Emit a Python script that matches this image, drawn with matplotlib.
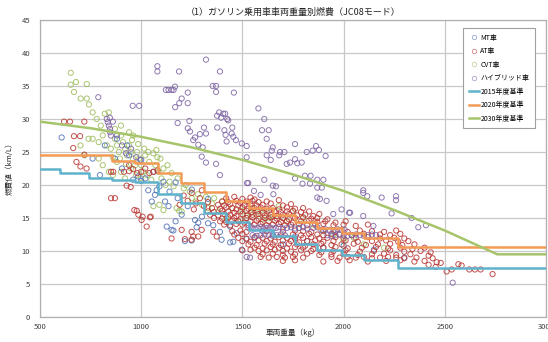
import numpy as np
import matplotlib
matplotlib.use("Agg")
import matplotlib.pyplot as plt
from matplotlib.lines import Line2D

plt.rcParams['font.family'] = ['Noto Sans CJK JP', 'DejaVu Sans']

#-----------------------------------------------------------------------------
# data (vehicle weight kg, fuel economy km/L)

title = "（1）ガソリン乗用車車両重量別燃費（JC08モード）"
xlabel = "車両重量（kg）"
ylabel = "燃費値（km/L）"
series_names = ["MT車", "AT車", "CVT車", "ハイブリッド車"]
line_names = ["2015年度基準", "2020年度基準", "2030年度基準"]

mt_pts = [(607, 27.2), (796, 21.5), (870, 24.0), (905, 22.5), (930, 26.0), (960, 20.8),
          (985, 21.3), (1000, 20.6), (1035, 19.2), (1052, 17.5), (1068, 18.5), (1076, 19.2),
          (1090, 19.8), (1118, 17.5), (1126, 13.7), (1135, 16.8), (1150, 13.2), (1159, 13.1),
          (1170, 14.5), (1200, 15.5), (1216, 11.5), (1249, 11.6), (1266, 14.7), (1274, 13.6),
          (1282, 14.3), (1300, 15.2), (1330, 14.2), (1356, 13.9), (1389, 12.9), (1397, 11.7),
          (1439, 13.7), (1439, 11.3), (1455, 11.4), (1472, 12.7), (1497, 10.2), (1520, 11.8),
          (1560, 12.0), (1600, 13.0), (1650, 12.5), (1700, 11.0), (1760, 12.2), (1820, 11.5),
          (1900, 10.5), (2000, 10.8), (2150, 10.2), (2300, 9.0), (940, 24.5), (880, 27.0),
          (820, 26.0), (760, 24.0), (1000, 23.8), (1020, 21.0), (1140, 19.0), (1180, 18.0),
          (1230, 16.8), (1110, 20.5), (1060, 22.0), (1170, 20.4), (1250, 19.3), (1330, 17.9)]

at_pts = [(619, 29.6), (648, 29.6), (719, 29.6), (668, 27.4), (698, 27.4), (664, 25.6),
          (719, 24.6), (680, 23.5), (700, 22.8), (730, 22.5), (851, 22.0), (862, 22.0),
          (928, 19.9), (948, 19.7), (851, 18.0), (870, 18.0), (966, 16.2), (978, 16.1),
          (986, 15.5), (1007, 15.2), (1027, 13.7), (1047, 15.2), (1002, 14.7), (1043, 15.1),
          (1200, 13.2), (1216, 11.8), (1249, 11.7), (1257, 12.2), (1249, 12.9), (1282, 12.2),
          (1299, 13.2), (1356, 12.9), (1373, 12.2), (1150, 11.9), (915, 22.0), (940, 22.1),
          (960, 22.4), (980, 21.8), (1000, 22.0), (1020, 22.5), (1040, 21.8), (1060, 22.0),
          (1080, 22.2), (940, 23.0), (1190, 17.0), (1210, 18.4), (1230, 17.6), (1250, 18.8),
          (1270, 17.2), (1290, 18.0), (1310, 16.8), (1330, 17.4), (1300, 19.2), (1260, 16.3),
          (1420, 18.0), (1460, 18.2), (1500, 17.9), (1540, 18.1), (1560, 17.8),
          (1400, 17.5), (1430, 17.4), (1470, 17.6), (1490, 17.3), (1520, 17.5), (1550, 17.6),
          (1580, 17.4), (1620, 17.5), (1680, 17.7),
          (1380, 17.0), (1410, 16.9), (1440, 17.1), (1480, 16.9), (1510, 17.0), (1540, 17.1),
          (1570, 16.9), (1600, 17.0), (1640, 17.2), (1700, 16.9), (1740, 17.1),
          (1350, 16.5), (1390, 16.4), (1420, 16.6), (1450, 16.5), (1470, 16.3), (1500, 16.6),
          (1530, 16.4), (1560, 16.5), (1590, 16.6), (1620, 16.4), (1650, 16.5), (1680, 16.3),
          (1720, 16.6), (1760, 16.4), (1800, 16.5),
          (1330, 16.0), (1360, 15.9), (1400, 16.1), (1430, 16.0), (1460, 15.8), (1490, 16.0),
          (1520, 16.1), (1545, 15.9), (1575, 16.0), (1600, 15.8), (1630, 16.1), (1660, 16.0),
          (1690, 15.9), (1720, 16.0), (1750, 16.1), (1790, 15.9), (1830, 16.0),
          (1340, 15.5), (1380, 15.4), (1410, 15.6), (1440, 15.5), (1470, 15.3), (1500, 15.6),
          (1525, 15.4), (1550, 15.5), (1580, 15.6), (1610, 15.4), (1640, 15.5), (1670, 15.3),
          (1700, 15.5), (1730, 15.6), (1770, 15.4), (1810, 15.5), (1850, 15.3), (1880, 15.6),
          (1360, 15.0), (1400, 14.9), (1430, 15.1), (1460, 15.0), (1490, 14.8), (1520, 15.0),
          (1550, 15.1), (1580, 14.9), (1610, 15.0), (1640, 15.1), (1670, 14.9), (1700, 15.0),
          (1730, 14.8), (1760, 15.0), (1800, 15.1), (1840, 14.9), (1870, 15.0), (1920, 14.8),
          (1390, 14.5), (1420, 14.4), (1450, 14.6), (1480, 14.5), (1510, 14.3), (1540, 14.5),
          (1570, 14.6), (1600, 14.4), (1630, 14.5), (1660, 14.6), (1690, 14.4), (1720, 14.5),
          (1750, 14.3), (1790, 14.5), (1830, 14.6), (1870, 14.4), (1910, 14.5), (1960, 14.3),
          (2010, 14.5),
          (1410, 14.0), (1440, 13.9), (1470, 14.1), (1500, 14.0), (1530, 13.9), (1560, 14.0),
          (1590, 14.1), (1620, 13.9), (1650, 14.0), (1680, 14.1), (1710, 13.9), (1740, 14.0),
          (1780, 14.1), (1820, 13.9), (1860, 14.0), (1900, 14.1), (1950, 13.9), (2000, 14.0),
          (2060, 13.8), (2120, 14.0),
          (1450, 13.0), (1490, 13.1), (1520, 12.9), (1620, 13.0), (1700, 12.9), (1760, 13.1),
          (1800, 13.0), (1840, 12.9), (1900, 13.1), (1960, 13.0), (2020, 12.9), (2080, 13.1),
          (2140, 13.0), (2200, 12.9), (2260, 13.1),
          (1460, 12.5), (1500, 12.6), (1750, 12.5), (1790, 12.4), (1830, 12.6), (1870, 12.5),
          (1900, 12.4), (1940, 12.6), (1980, 12.5), (2040, 12.4), (2100, 12.6), (2180, 12.5),
          (2230, 12.4), (2280, 12.6),
          (1480, 12.0), (1520, 11.9), (1560, 12.1), (1600, 12.0), (1640, 11.9), (1680, 12.1),
          (1720, 12.0), (1760, 11.9), (1800, 12.0), (1840, 12.1), (1880, 11.9), (1920, 12.0),
          (1960, 12.1), (2000, 11.9), (2060, 12.0), (2120, 12.1), (2180, 11.9), (2250, 12.0),
          (2300, 11.9),
          (1500, 11.5), (1540, 11.4), (1580, 11.6), (1620, 11.5), (1660, 11.4), (1700, 11.6),
          (1740, 11.5), (1780, 11.3), (1820, 11.5), (1860, 11.6), (1900, 11.4), (1950, 11.5),
          (2010, 11.6), (2070, 11.4), (2140, 11.5), (2210, 11.6), (2270, 11.4), (2320, 11.5),
          (1530, 11.0), (1570, 10.9), (1610, 11.1), (1650, 11.0), (1690, 10.9), (1730, 11.1),
          (1770, 11.0), (1810, 10.8), (1850, 11.0), (1890, 11.1), (1940, 10.9), (1990, 11.0),
          (2050, 11.1), (2110, 10.9), (2170, 11.0), (2230, 11.1), (2290, 10.9), (2350, 11.0),
          (1560, 10.5), (1600, 10.4), (1640, 10.6), (1680, 10.5), (1720, 10.4), (1760, 10.6),
          (1800, 10.5), (1850, 10.3), (1900, 10.5), (1960, 10.6), (2020, 10.4), (2090, 10.5),
          (2160, 10.6), (2220, 10.4), (2280, 10.5), (2340, 10.3), (2400, 10.5),
          (1500, 10.1), (1540, 10.2), (1580, 10.0), (1620, 10.1), (1660, 10.2), (1700, 10.0),
          (1740, 9.9), (1790, 10.1), (1840, 10.0), (1890, 9.8), (1950, 10.0), (2010, 10.1),
          (2080, 9.9), (2150, 10.0), (2230, 10.1), (2300, 9.9), (2380, 10.0), (2430, 9.8),
          (1600, 9.5), (1650, 9.6), (1700, 9.4), (1760, 9.5), (1820, 9.6), (1880, 9.4),
          (1940, 9.5), (2000, 9.6), (2070, 9.4), (2140, 9.5), (2200, 9.6), (2260, 9.4),
          (2330, 9.5), (2420, 9.3),
          (1590, 9.1), (1630, 9.0), (1670, 9.1), (1710, 9.0), (1750, 9.1), (1800, 9.0),
          (1940, 9.1), (1980, 9.0), (2020, 9.1), (2060, 9.0), (2100, 9.1), (2140, 8.9),
          (2180, 9.0), (2220, 9.1), (2260, 9.0), (2300, 8.9), (2360, 9.0), (2440, 8.9),
          (1700, 8.5), (1760, 8.6), (1900, 8.4), (1970, 8.5), (2030, 8.6), (2120, 8.4),
          (2210, 8.5), (2280, 8.6), (2350, 8.4), (2400, 8.5), (2460, 8.3),
          (2420, 7.9), (2455, 7.6), (2480, 8.2), (2509, 6.9), (2534, 7.2), (2567, 8.0),
          (2583, 7.8), (2621, 7.2), (2649, 7.2), (2677, 7.2), (2736, 6.5)]

cvt_pts = [(652, 37.0), (652, 35.2), (678, 35.6), (731, 35.3), (668, 34.1), (701, 33.1),
           (731, 33.1), (742, 32.2), (760, 31.0), (780, 30.0), (800, 29.0), (820, 30.8),
           (840, 31.0), (760, 27.0), (790, 26.5), (810, 27.5), (830, 26.0), (850, 25.5),
           (870, 27.0), (880, 26.0), (890, 25.0), (900, 27.5), (910, 26.5), (920, 25.5),
           (930, 24.5), (940, 26.0), (950, 25.0), (960, 24.0), (970, 23.0), (980, 25.0),
           (990, 24.0), (1000, 23.0), (1010, 22.0), (1020, 24.5), (1040, 23.5), (1060, 24.8),
           (1070, 23.0), (1085, 22.0), (1100, 21.0), (1110, 22.5), (1120, 20.0), (1140, 20.5),
           (1160, 19.8), (1175, 16.5), (1188, 16.1), (1200, 16.0), (1060, 16.8), (1090, 17.0),
           (1110, 16.2), (1220, 20.0), (1250, 18.0), (1270, 17.5), (1300, 17.0), (1330, 16.5),
           (1360, 18.0), (1380, 16.0), (1400, 17.5), (1420, 15.0), (1450, 16.5), (1480, 14.5),
           (1500, 16.0), (1520, 15.0), (1550, 16.5), (1570, 15.5), (1600, 14.8), (1620, 16.0),
           (1650, 15.2), (1680, 16.8), (1700, 15.0), (1720, 14.5), (1750, 16.0), (1780, 13.5),
           (1800, 15.0), (1850, 14.0), (1900, 13.0), (1950, 12.5), (2000, 11.5), (2050, 12.0),
           (2100, 11.0), (2200, 10.5), (940, 28.0), (960, 27.5), (870, 28.5), (900, 29.0),
           (700, 26.0), (720, 24.5), (740, 27.0), (790, 24.0), (810, 23.0), (840, 22.0),
           (860, 21.5), (880, 23.5), (900, 22.0), (920, 21.0), (950, 22.5), (975, 21.5),
           (1000, 21.0), (1030, 21.5), (1050, 20.8), (1080, 24.2), (860, 24.2), (895, 24.0),
           (925, 23.2), (955, 26.8), (985, 26.2), (1015, 25.5), (1035, 25.0), (1075, 25.3),
           (1095, 24.0), (1130, 23.0), (1150, 21.8), (1180, 21.0), (1210, 19.5), (1240, 19.0),
           (1280, 18.6), (1320, 18.2), (1350, 17.2), (1540, 15.8), (1590, 16.2), (1630, 15.0)]

hv_pts = [(788, 33.3), (830, 30.0), (835, 29.5), (840, 29.0), (846, 28.5), (846, 28.0),
          (850, 27.5), (845, 30.2), (860, 29.6), (958, 32.0), (990, 32.0), (1080, 38.0),
          (1080, 37.2), (1187, 37.2), (1389, 37.2), (1320, 39.0), (1122, 34.4), (1135, 34.4),
          (1150, 34.4), (1160, 34.4), (1167, 34.9), (1230, 34.0), (1200, 33.1), (1188, 32.4),
          (1168, 31.8), (1230, 32.4), (1353, 35.0), (1370, 35.0), (1370, 34.1), (1458, 34.0),
          (1375, 30.5), (1385, 31.0), (1395, 30.2), (1405, 30.8), (1415, 30.8), (1425, 30.0),
          (1430, 29.8), (1238, 29.7), (1180, 29.4), (1230, 28.6), (1241, 28.1), (1266, 27.2),
          (1290, 27.7), (1310, 28.7), (1320, 27.8), (1257, 26.8), (1282, 26.1), (1304, 25.7),
          (1376, 28.7), (1411, 28.3), (1450, 28.7), (1447, 27.8), (1417, 27.6), (1422, 26.6),
          (1455, 27.3), (1468, 26.8), (1497, 26.3), (1579, 31.6), (1608, 30.0), (1597, 28.3),
          (1630, 28.3), (1620, 27.0), (1650, 25.7), (1645, 25.2), (1686, 25.0), (1707, 25.0),
          (1760, 26.2), (1818, 25.0), (1847, 25.2), (1864, 25.9), (1878, 25.3), (1911, 24.4),
          (1620, 24.5), (1640, 23.8), (1682, 24.5), (1719, 23.2), (1735, 23.4), (1760, 23.9),
          (1771, 23.3), (1793, 23.4), (1521, 24.2), (1521, 25.9), (1529, 20.3), (1608, 20.8),
          (1650, 19.9), (1666, 19.8), (1557, 19.1), (1590, 18.5), (1653, 18.6), (1760, 21.0),
          (1809, 21.4), (1837, 21.4), (1797, 20.2), (1834, 20.2), (1870, 20.8), (1900, 20.8),
          (1870, 19.6), (1892, 19.6), (1870, 18.1), (1883, 17.9), (1916, 17.6), (1949, 15.6),
          (1990, 16.3), (2027, 15.8), (2097, 19.2), (2097, 18.8), (2117, 18.3), (2188, 18.1),
          (2259, 18.3), (2259, 17.7), (2237, 15.7), (2097, 15.3), (2032, 15.8), (2336, 15.0),
          (2369, 13.6), (2407, 13.9), (2147, 13.8), (1523, 20.3), (1299, 24.3), (1320, 23.4),
          (1370, 23.2), (1389, 21.5), (1521, 9.1), (1538, 9.0), (2539, 5.2),
          (880, 27.5), (905, 26.0), (925, 24.8), (950, 25.5), (975, 24.2), (995, 23.8),
          (1530, 13.5), (1545, 13.6), (1560, 13.4), (1575, 13.5), (1590, 13.6), (1605, 13.4),
          (1620, 13.5), (1635, 13.6), (1650, 13.4), (1665, 13.5), (1680, 13.6), (1700, 13.4),
          (1720, 13.5), (1740, 13.6), (1760, 13.4), (1780, 13.5), (1800, 13.6), (1820, 13.4),
          (1850, 13.5), (1870, 13.6), (1890, 13.2), (1910, 13.3), (1930, 13.2), (1950, 13.1),
          (1970, 13.3), (1990, 13.2), (2005, 13.2),
          (1550, 12.4), (1570, 12.3), (1590, 12.4), (1610, 12.5), (1630, 12.4), (1650, 12.3),
          (1670, 12.4), (1690, 12.5), (1710, 12.4), (1920, 12.4), (1940, 12.3), (1960, 12.4),
          (1980, 12.5), (2000, 12.4), (2020, 12.3), (2040, 12.4), (2060, 12.5), (2080, 12.4),
          (2100, 12.3), (2120, 12.4), (2140, 12.5), (2160, 12.4)]

# fiscal-year standards (weight class boundaries, km/L)
std2015_w = [500, 601, 741, 856, 971, 1081, 1196, 1311, 1421, 1531, 1651, 1761, 1871, 1991, 2101, 2271, 3000]
std2015_fe = [22.5, 21.8, 21.0, 20.8, 20.5, 18.7, 17.2, 15.8, 14.4, 13.2, 12.2, 11.1, 10.2, 9.4, 8.7, 7.4, 7.4]
std2020_w = [500, 741, 856, 971, 1081, 1196, 1311, 1421, 1531, 1651, 1761, 1871, 1991, 2101, 2271, 3000]
std2020_fe = [24.6, 24.5, 23.7, 23.4, 21.8, 20.3, 19.0, 17.6, 16.5, 15.4, 14.4, 13.5, 12.7, 11.9, 10.6, 10.6]
std2030_w = [500, 750, 1000, 1250, 1500, 1750, 2000, 2250, 2500, 2759, 3000]
std2030_fe = [29.6, 28.6, 27.3, 25.7, 23.8, 21.6, 19.1, 16.2, 13.1, 9.5, 9.5]

colors = ['#4f6fb3', '#b8332f', '#9bbb59', '#7d62a3']
line_colors = ['#5fb2cc', '#f39a55', '#a6c46a']

#-----------------------------------------------------------------------------

fig = plt.figure(figsize=(5.48, 3.42), dpi=100)
ax = fig.add_axes([40/548, 1-317/342, 506/548, 297/342])

pts_all = [mt_pts, at_pts, cvt_pts, hv_pts]
zorders = [3, 4, 2, 5]
for pts, c, z in zip(pts_all, colors, zorders):
    a = np.array(pts)
    ax.scatter(a[:, 0], a[:, 1], s=14, facecolors='none', edgecolors=c,
               linewidths=0.7, alpha=0.85, zorder=z)

ax.step(std2015_w, std2015_fe, where='post', color=line_colors[0], lw=1.8, zorder=6)
ax.step(std2020_w, std2020_fe, where='post', color=line_colors[1], lw=1.8, zorder=6)
ax.plot(std2030_w, std2030_fe, color=line_colors[2], lw=1.8, zorder=6)

ax.set_xlim(500, 3000)
ax.set_ylim(0, 45)
ax.set_xticks(np.arange(500, 3001, 500))
ax.set_yticks(np.arange(0, 46, 5))
ax.grid(True, color='#c8c8c8', lw=0.9)
ax.set_axisbelow(True)
for sp in ax.spines.values():
    sp.set_color('#b0b0b0')
    sp.set_linewidth(0.9)
ax.tick_params(length=0, labelsize=5.5, labelcolor='#404040')
ax.tick_params(axis='y', pad=7)
ax.tick_params(axis='x', pad=4)

fig.text(293/548, 1-12/342, title, ha='center', va='center', fontsize=6.5, color='#222222')
fig.text(293/548, 1-333/342, xlabel, ha='center', va='center', fontsize=5.5, color='#222222')
fig.text(10/548, 1-167/342, ylabel, ha='center', va='center', rotation=90, fontsize=5.5, color='#222222')

handles = [Line2D([], [], ls='none', marker='o', mfc='none', mec=c, mew=0.6, ms=3.2, alpha=0.6)
           for c in colors]
handles += [Line2D([], [], color=c, lw=1.8) for c in line_colors]
leg = ax.legend(handles, series_names + line_names, loc='upper left',
                bbox_to_anchor=(463/548, 1-28/342), bbox_transform=fig.transFigure,
                fontsize=5, frameon=True, fancybox=False, framealpha=1,
                edgecolor='#a0a0a0', handlelength=1.5, handletextpad=0.2,
                labelspacing=0.8, borderpad=0.8, borderaxespad=0)
leg.get_frame().set_linewidth(0.8)
leg.set_zorder(10)

plt.savefig('out.png', dpi=100)
